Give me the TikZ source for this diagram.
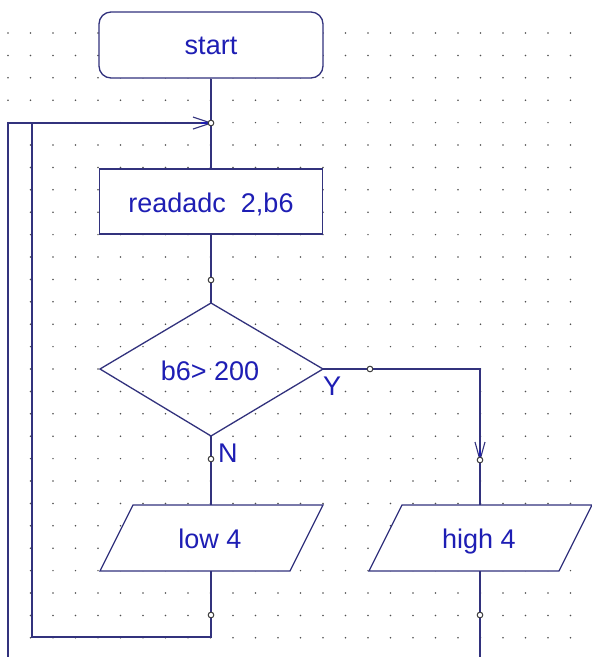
\documentclass[tikz,border=0pt]{standalone}
\usepackage{fontspec}
\setmainfont{Liberation Sans}
\definecolor{lin}{RGB}{50,50,125}
\definecolor{txt}{RGB}{30,30,180}
\definecolor{dotc}{RGB}{80,80,80}
\begin{document}
\begin{tikzpicture}[x=1pt,y=-1pt,
  ln/.style={draw=lin, line width=1.3pt},
  box/.style={draw=lin, line width=1.3pt, fill=white, minimum width=223pt, minimum height=65pt, inner sep=0pt},
  lbl/.style={text=txt, font=\fontsize{27}{29}\selectfont, inner sep=0pt},
  jdot/.style={circle, draw=black!75, fill=white, line width=0.9pt, minimum size=5.5pt, inner sep=0pt},
  barb/.style={draw=lin, line width=1.1pt},
  barbfill/.style={draw=txt, line width=2.4pt}]
\useasboundingbox (0,0) rectangle (592,657);
\fill[white] (0,0) rectangle (592,657);
% dotted grid
\foreach \i in {0,...,26} {
  \foreach \j in {0,...,27} {
    \fill[dotc] (8+22.5*\i, 33+22.4*\j) circle (0.85pt);
  }
}
% boxes
\node[box, rounded corners=12pt, minimum width=224pt, minimum height=66pt] (start) at (211,45) {};
\node[lbl, anchor=base] (starttext) at (211,54) {start};
\node[box] (rd) at (211,201.5) {};
\node[lbl, anchor=base] (rdtext) at (211,212) {readadc\ \ 2,b6};
% decision
\coordinate (dT) at (211,303);
\coordinate (dL) at (100,369);
\coordinate (dR) at (323,369);
\coordinate (dB) at (211,436);
\draw[ln] (dT) -- (dR) -- (dB) -- (dL) -- cycle;
\node[lbl, anchor=base] (dtext) at (210,380) {b6> 200};
\node[lbl, anchor=base west] (ylab) at (323,395) {Y};
\node[lbl, anchor=base west] (nlab) at (218,462) {N};
% parallelograms
\coordinate (lowA) at (133,505);
\coordinate (lowB) at (323,505);
\coordinate (lowC) at (290,571);
\coordinate (lowD) at (100,571);
\fill[white] (lowA) -- (lowB) -- (lowC) -- (lowD) -- cycle;
\draw[ln] (lowA) -- (lowB) -- (lowC) -- (lowD) -- cycle;
\coordinate (lowtop) at (211,505);
\coordinate (lowbot) at (211,571);
\node[lbl, anchor=base] (lowtext) at (210,548) {low 4};
\coordinate (hiA) at (402,505);
\coordinate (hiB) at (592,505);
\coordinate (hiC) at (559,571);
\coordinate (hiD) at (369,571);
\fill[white] (hiA) -- (hiB) -- (hiC) -- (hiD) -- cycle;
\draw[ln] (hiA) -- (hiB) -- (hiC) -- (hiD) -- cycle;
\coordinate (hitop) at (480,505);
\coordinate (hibot) at (480,571);
\node[lbl, anchor=base] (hitext) at (479,548) {high 4};
% junctions
\node[jdot] (j1) at (211,123) {};
\node[jdot] (j2) at (211,280) {};
\node[jdot] (j3) at (211,459) {};
\node[jdot] (j4) at (370,369) {};
\node[jdot] (j5) at (480,460) {};
\node[jdot] (j6) at (211,615) {};
\node[jdot] (j7) at (480,615) {};
% corner points
\coordinate (c1) at (480,369);
\coordinate (c2) at (211,637);
\coordinate (c3) at (32,637);
\coordinate (c4) at (32,123);
\coordinate (c5) at (8,657);
\coordinate (c6) at (8,123);
\coordinate (c7) at (480,657);
% connectors
\draw[ln] (start.south) -- (j1.center) -- (rd.north);
\draw[ln] (rd.south) -- (j2.center) -- (dT);
\draw[ln] (dB) -- (j3.center) -- (lowtop);
\draw[ln] (dR) -- (j4.center) -- (c1) -- (j5.center) -- (hitop);
\draw[ln] (lowbot) -- (j6.center) -- (c2) -- (c3) -- (c4);
\draw[ln] (c5) -- (c6) -- (j1.center);
\draw[ln] (hibot) -- (j7.center) -- (c7);
% arrowheads
\draw[barbfill] ([xshift=-10pt]j1.center) -- ([xshift=-3pt]j1.center);
\draw[barb] ([xshift=-18pt,yshift=-6pt]j1.center) -- (j1.center) -- ([xshift=-18pt,yshift=6pt]j1.center);
\draw[barbfill] ([yshift=10pt]j5.center) -- ([yshift=3pt]j5.center);
\draw[barb] ([xshift=-5pt,yshift=18pt]j5.center) -- (j5.center) -- ([xshift=5pt,yshift=18pt]j5.center);
% junction dots on top
\foreach \n in {j1,j2,j3,j4,j5,j6,j7} {
  \node[jdot] at (\n.center) {};
}
\end{tikzpicture}
\end{document}
